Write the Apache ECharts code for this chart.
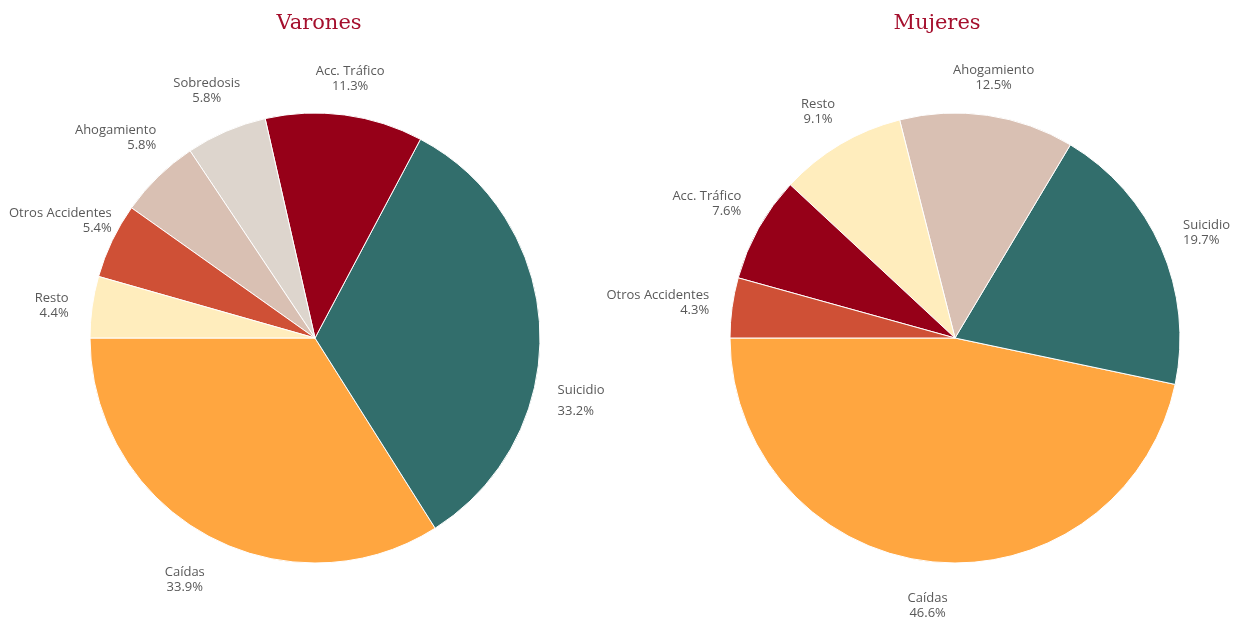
<!DOCTYPE html>
<html>
<head>
<meta charset="utf-8">
<script src="https://cdn.jsdelivr.net/npm/echarts@6/dist/echarts.min.js"></script>
<style>
  html, body { margin: 0; padding: 0; background: #fff; }
  #chart { width: 1239px; height: 622px; }
</style>
</head>
<body>
<div id="chart"></div>
<script>
// datos (porcentaje por causa)
const varonesNames = ['Caídas', 'Suicidio', 'Acc. Tráfico', 'Sobredosis', 'Ahogamiento', 'Otros Accidentes', 'Resto']
const varonesValues = [33.9, 33.2, 11.3, 5.8, 5.8, 5.4, 4.4]

const mujeresNames = ['Caídas', 'Suicidio', 'Ahogamiento', 'Resto', 'Acc. Tráfico', 'Otros Accidentes']
const mujeresValues = [46.6, 19.7, 12.5, 9.1, 7.6, 4.3]

const colorMap = {
  'Caídas': '#ffa640',
  'Suicidio': '#326e6c',
  'Acc. Tráfico': '#960018',
  'Sobredosis': '#ddd5cd',
  'Ahogamiento': '#d9c0b3',
  'Otros Accidentes': '#cf5036',
  'Resto': '#ffedbd'
}

const RADIUS = 225
const CY = 338
const START = 180
const GAP = 22
const MARGIN = 9
const WIDTH = 1239

// la etiqueta de Suicidio (varones) esta mas abajo en el original
const labelNudge = { 'Varones|Suicidio': [-5, 68] }

function toData(names, values) {
  return names.map((n, i) => ({
    name: n,
    value: values[i],
    itemStyle: { color: colorMap[n] }
  }))
}

// etiquetas fuera del sector, como en excel (centradas arriba/abajo)
function makeLabelLayout(seriesName, names, values, cx) {
  const total = values.reduce((a, b) => a + b, 0)
  return function (params) {
    const idx = params.dataIndex
    let before = 0
    for (let i = 0; i < idx; i++) before += values[i]
    const mid = (START + (before + values[idx] / 2) / total * 360) * Math.PI / 180
    const dx = Math.cos(mid)
    const dy = -Math.sin(mid)
    const w = params.labelRect.width
    const h = params.labelRect.height
    let dist = RADIUS + GAP + Math.abs(dx) * w / 2 + Math.abs(dy) * h / 2
    // mantener dentro del area del grafico
    let bx = cx + dist * dx
    if (bx - w / 2 < MARGIN) dist -= (MARGIN - (bx - w / 2)) / Math.abs(dx)
    if (bx + w / 2 > WIDTH - MARGIN) dist -= (bx + w / 2 - (WIDTH - MARGIN)) / Math.abs(dx)
    bx = cx + dist * dx
    let by = CY + dist * dy + 5
    const nudge = labelNudge[seriesName + '|' + names[idx]]
    if (nudge) { bx += nudge[0]; by += nudge[1] }
    let align = 'center'
    let x = bx
    if (Math.abs(dx) >= 0.55) {
      if (dx < 0) { align = 'right'; x = bx + w / 2 } else { align = 'left'; x = bx - w / 2 }
    }
    return { x: x, y: by, align: align, verticalAlign: 'middle' }
  }
}

const labelFont = '"Open Sans", "DejaVu Sans", sans-serif'

function pieSeries(name, names, values, cx) {
  return {
    name: name,
    type: 'pie',
    center: [cx, CY],
    radius: RADIUS,
    startAngle: START,
    clockwise: false,
    animation: false,
    itemStyle: { borderColor: '#fff', borderWidth: 1 },
    label: {
      show: true,
      position: 'outside',
      overflow: 'none',
      formatter: p => p.name + '\n' + p.value.toFixed(1) + '%',
      color: '#595959',
      fontFamily: labelFont,
      fontSize: 13,
      lineHeight: 15
    },
    labelLine: { show: false },
    labelLayout: makeLabelLayout(name, names, values, cx),
    emphasis: { disabled: true },
    data: toData(names, values)
  }
}

const titleStyle = { color: '#a50f2d', fontFamily: '"DejaVu Serif", serif', fontWeight: 'normal', fontSize: 21 }

const chart = echarts.init(document.getElementById('chart'))
const option = {
  backgroundColor: '#fff',
  title: [{
    text: 'Varones',
    left: 314,
    top: 8,
    textAlign: 'center',
    textStyle: titleStyle
  }, {
    text: 'Mujeres',
    left: 932,
    top: 8,
    textAlign: 'center',
    textStyle: titleStyle
  }],
  series: [
    pieSeries('Varones', varonesNames, varonesValues, 315),
    pieSeries('Mujeres', mujeresNames, mujeresValues, 955)
  ]
}
// interlineado mayor en la etiqueta de Suicidio (varones)
option.series[0].data[1].label = { lineHeight: 21 }
chart.setOption(option)
</script>
</body>
</html>
